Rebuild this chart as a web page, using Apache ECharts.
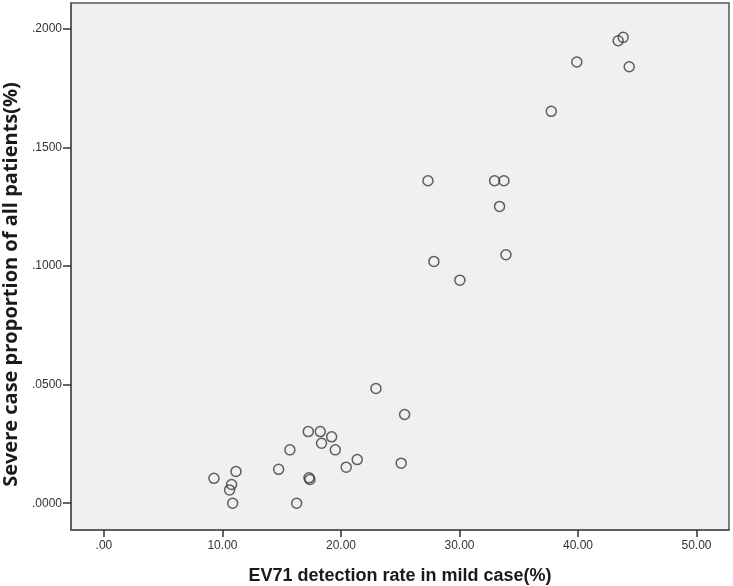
<!DOCTYPE html>
<html><head><meta charset="utf-8">
<script src="https://cdn.jsdelivr.net/npm/echarts@6/dist/echarts.min.js"></script>
<style>html,body{margin:0;padding:0;background:#fff}#c{width:733px;height:586px}</style>
</head><body><div id="c"></div>
<script>
const xTitle = "EV71 detection rate in mild case(%)";
const yTitle = "Severe case proportion of all patients(%)";
const xTicks = [0, 10, 20, 30, 40, 50];
const yTicks = [0, 0.05, 0.10, 0.15, 0.20];
const detectionRate = [9.28, 11.14, 10.77, 10.6, 10.86, 14.74, 15.69, 17.24, 18.25, 19.21, 18.36, 19.52, 20.44, 21.37, 17.3, 17.38, 16.26, 25.08, 25.37, 22.95, 27.34, 32.96, 33.75, 33.38, 33.92, 27.84, 30.03, 37.74, 39.9, 43.39, 43.81, 44.32];
const severeProportion = [0.0105, 0.0134, 0.0079, 0.0056, 0.0, 0.0143, 0.0225, 0.0302, 0.0302, 0.0280, 0.0253, 0.0225, 0.0152, 0.0184, 0.0107, 0.0100, 0.0, 0.0169, 0.0374, 0.0484, 0.1360, 0.1360, 0.1360, 0.1252, 0.1048, 0.1020, 0.0941, 0.1653, 0.1861, 0.1951, 0.1965, 0.1841];

const points = detectionRate.map((x, i) => [x, severeProportion[i]]);
const fmtX = v => { const s = v.toFixed(2); return s.startsWith('0') ? s.slice(1) : s; };
const fmtY = v => { const s = v.toFixed(4); return s.startsWith('0') ? s.slice(1) : s; };

const chart = echarts.init(document.getElementById('c'), null, {renderer: 'canvas'});
chart.setOption({
  animation: false,
  backgroundColor: '#ffffff',
  grid: {left: 71, top: 3, right: 4, bottom: 56, outerBoundsMode: 'none', containLabel: false, show: true, backgroundColor: '#f0f0f0', borderColor: '#555', borderWidth: 1.5},
  xAxis: {
    type: 'value', min: -2.78, max: 52.74,
    name: xTitle, nameLocation: 'middle', nameGap: 37,
    nameTextStyle: {fontFamily: 'Liberation Sans', fontWeight: 'bold', fontSize: 18, color: '#1a1a1a'},
    axisLine: {show: true, onZero: false, lineStyle: {color: '#555', width: 1.5}},
    axisTick: {show: true, length: 7, lineStyle: {color: '#333', width: 1.5}, customValues: xTicks},
    axisLabel: {customValues: xTicks, formatter: fmtX, fontFamily: 'Liberation Sans', fontSize: 12, color: '#333', margin: 10},
    splitLine: {show: false}
  },
  yAxis: {
    type: 'value', min: -0.0113, max: 0.211,
    name: yTitle, nameLocation: 'middle', nameGap: 46,
    nameTextStyle: {fontFamily: 'Open Sans', fontWeight: 'bold', fontSize: 20, color: '#1a1a1a', padding: [0, 36, 0, 0]},
    axisLine: {show: true, onZero: false, lineStyle: {color: '#555', width: 1.5}},
    axisTick: {show: true, length: 8, lineStyle: {color: '#333', width: 1.5}, customValues: yTicks},
    axisLabel: {customValues: yTicks, formatter: fmtY, fontFamily: 'Liberation Sans', fontSize: 12, color: '#333', margin: 9},
    splitLine: {show: false}
  },
  series: [{
    type: 'scatter', data: points, symbol: 'circle', symbolSize: 10,
    itemStyle: {color: 'rgba(0,0,0,0)', borderColor: '#3a3a3a', borderWidth: 1.5}
  }]
});
</script></body></html>
